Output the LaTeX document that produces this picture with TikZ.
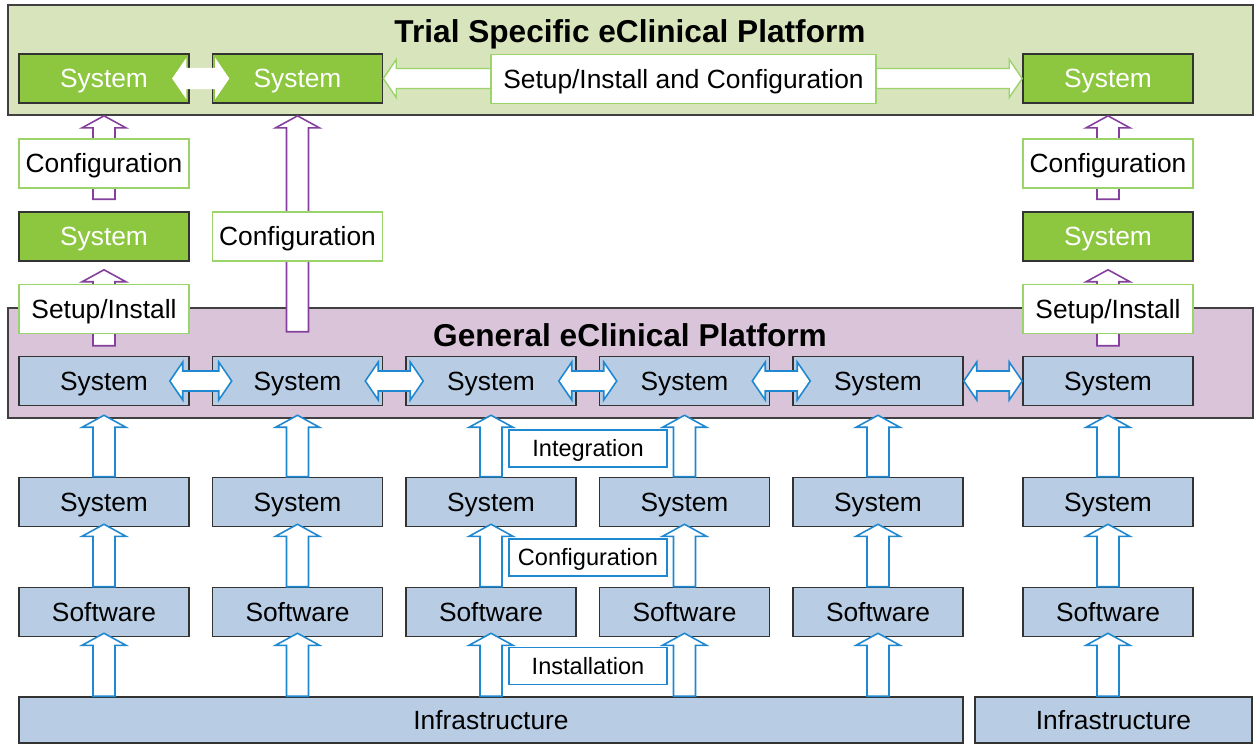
\documentclass[tikz,border=0pt]{standalone}
\usepackage{fontspec}
\setmainfont{Liberation Sans}
\usetikzlibrary{calc,positioning}
\definecolor{trialbg}{HTML}{D7E4BC}
\definecolor{sysgreen}{HTML}{8DC63F}
\definecolor{lblgreen}{HTML}{9BD46A}
\definecolor{genbg}{HTML}{D9C4DA}
\definecolor{sysblue}{HTML}{B8CCE4}
\definecolor{arrblue}{HTML}{2088D0}
\definecolor{arrpurple}{HTML}{84409C}
\tikzstyle{panel}=[draw=black!75, line width=1pt, minimum width=24.9cm, minimum height=2.2cm, inner sep=0pt]
\tikzstyle{title}=[font=\fontsize{18}{22}\selectfont\bfseries, text height=13pt, text depth=0pt, inner sep=0pt]
\tikzstyle{box}=[draw=black!80, line width=0.9pt, minimum width=3.4cm, minimum height=0.98cm, inner sep=0pt, text height=10.8pt, text depth=0pt, font=\fontsize{15}{18}\selectfont]
\tikzstyle{sysg}=[box, fill=sysgreen, text=white]
\tikzstyle{sysb}=[box, fill=sysblue]
\tikzstyle{lblg}=[box, draw=lblgreen, line width=0.7pt, fill=white]
\tikzstyle{lblb}=[draw=arrblue, line width=0.8pt, fill=white, minimum width=3.16cm, minimum height=0.74cm, inner sep=0pt, text height=9.6pt, text depth=0pt, font=\fontsize{13.4}{16}\selectfont]
\tikzstyle{bfat}=[draw=arrblue, line width=0.9pt, fill=white, line join=miter]
\tikzstyle{pfat}=[draw=arrpurple, line width=0.9pt, fill=white, line join=miter]
\tikzstyle{gfat}=[draw=lblgreen, line width=0.8pt, fill=white, line join=miter]
\tikzstyle{wfat}=[draw=white, line width=0.6pt, fill=white, line join=miter]
% hollow block arrow pointing up, from #2 (bottom) to #3 (tip)
\newcommand{\fatup}[3]{%
  \draw[#1] let \p1=(#2), \p2=(#3) in
    (\x1-0.22cm,\y1) -- (\x1-0.22cm,\y2-0.24cm) -- (\x1-0.44cm,\y2-0.24cm) -- (\x1,\y2)
    -- (\x1+0.44cm,\y2-0.24cm) -- (\x1+0.22cm,\y2-0.24cm) -- (\x1+0.22cm,\y1) -- cycle;}
% hollow block arrow with two heads, from #2 (left) to #3 (right)
\newcommand{\fatboth}[3]{%
  \draw[#1] let \p1=(#2), \p2=(#3) in
    (\x1,\y1) -- (\x1+0.26cm,\y1+0.38cm) -- (\x1+0.26cm,\y1+0.2cm) -- (\x2-0.26cm,\y1+0.2cm)
    -- (\x2-0.26cm,\y1+0.38cm) -- (\x2,\y1) -- (\x2-0.26cm,\y1-0.38cm) -- (\x2-0.26cm,\y1-0.2cm)
    -- (\x1+0.26cm,\y1-0.2cm) -- (\x1+0.26cm,\y1-0.38cm) -- cycle;}

\begin{document}
\begin{tikzpicture}[x=0.02cm,y=-0.02cm]
\useasboundingbox (0,0) rectangle (1257,744);
% trial specific platform
\node[panel, fill=trialbg] (tpanel) at (630.5,60) {};
\node[title] (ttitle) at (630,31) {Trial Specific eClinical Platform};
\node[sysg] (t1) at (104,78.5) {System};
\node[sysg] (t2) at (297.5,78.5) {System};
\node[sysg] (t3) at (1108,78.5) {System};
\node[sysg] (m1) at (104,236.5) {System};
\node[sysg] (m6) at (1108,236.5) {System};
% general platform
\node[panel, fill=genbg] (gpanel) at (630.5,363) {};
\node[title] (gtitle) at (630,335) {General eClinical Platform};
\node[sysb] (g1) at (104,381) {System};
\node[sysb] (g2) at (297.5,381) {System};
\node[sysb] (g3) at (491,381) {System};
\node[sysb] (g4) at (684.5,381) {System};
\node[sysb] (g5) at (878,381) {System};
\node[sysb] (g6) at (1108,381) {System};
\node[sysb] (s1) at (104,502) {System};
\node[sysb] (s2) at (297.5,502) {System};
\node[sysb] (s3) at (491,502) {System};
\node[sysb] (s4) at (684.5,502) {System};
\node[sysb] (s5) at (878,502) {System};
\node[sysb] (s6) at (1108,502) {System};
\node[sysb] (w1) at (104,612) {Software};
\node[sysb] (w2) at (297.5,612) {Software};
\node[sysb] (w3) at (491,612) {Software};
\node[sysb] (w4) at (684.5,612) {Software};
\node[sysb] (w5) at (878,612) {Software};
\node[sysb] (w6) at (1108,612) {Software};
\node[sysb, minimum width=18.88cm, minimum height=0.92cm] (infra) at (491,720) {Infrastructure};
\node[sysb, minimum width=5.54cm, minimum height=0.92cm] (infraR) at (1113.5,720) {Infrastructure};
% arrows
\fatboth{wfat}{[xshift=-0.34cm]t1.east}{[xshift=0.34cm]t2.west}
\fatboth{gfat}{t2.east}{t3.west}
\fatboth{bfat}{[xshift=-0.4cm]g1.east}{[xshift=0.4cm]g2.west}
\fatboth{bfat}{[xshift=-0.36cm]g2.east}{[xshift=0.36cm]g3.west}
\fatboth{bfat}{[xshift=-0.36cm]g3.east}{[xshift=0.36cm]g4.west}
\fatboth{bfat}{[xshift=-0.36cm]g4.east}{[xshift=0.36cm]g5.west}
\fatboth{bfat}{g5.east}{g6.west}
\fatup{pfat}{[yshift=0.24cm]m1.north}{tpanel.south}
\fatup{pfat}{[yshift=0.2cm]g1.north}{[yshift=-0.16cm]m1.south}
\fatup{pfat}{[yshift=0.48cm]g2.north}{tpanel.south}
\fatup{pfat}{[yshift=0.24cm]m6.north}{tpanel.south}
\fatup{pfat}{[yshift=0.2cm]g6.north}{[yshift=-0.16cm]m6.south}
\fatup{bfat}{s1.north}{[yshift=-0.18cm]g1.south}
\fatup{bfat}{s2.north}{[yshift=-0.18cm]g2.south}
\fatup{bfat}{s3.north}{[yshift=-0.18cm]g3.south}
\fatup{bfat}{s4.north}{[yshift=-0.18cm]g4.south}
\fatup{bfat}{s5.north}{[yshift=-0.18cm]g5.south}
\fatup{bfat}{s6.north}{[yshift=-0.18cm]g6.south}
\fatup{bfat}{w1.north}{[yshift=0.06cm]s1.south}
\fatup{bfat}{w2.north}{[yshift=0.06cm]s2.south}
\fatup{bfat}{w3.north}{[yshift=0.06cm]s3.south}
\fatup{bfat}{w4.north}{[yshift=0.06cm]s4.south}
\fatup{bfat}{w5.north}{[yshift=0.06cm]s5.south}
\fatup{bfat}{w6.north}{[yshift=0.06cm]s6.south}
\fatup{bfat}{w1 |- infra.north}{[yshift=0.08cm]w1.south}
\fatup{bfat}{w2 |- infra.north}{[yshift=0.08cm]w2.south}
\fatup{bfat}{w3 |- infra.north}{[yshift=0.08cm]w3.south}
\fatup{bfat}{w4 |- infra.north}{[yshift=0.08cm]w4.south}
\fatup{bfat}{w5 |- infra.north}{[yshift=0.08cm]w5.south}
\fatup{bfat}{w6 |- infraR.north}{[yshift=0.08cm]w6.south}
% labels on the arrows
\node[lblg, minimum width=7.7cm] (lsetup) at (683.5,79) {Setup/Install and Configuration};
\node[lblg] (lconf1) at (104,163.5) {Configuration};
\node[lblg] (lsetup1) at (104,309) {Setup/Install};
\node[lblg] (lconf2) at (297.5,236.5) {Configuration};
\node[lblg] (lconf6) at (1108,163.5) {Configuration};
\node[lblg] (lsetup6) at (1108,309) {Setup/Install};
\node[lblb] (lint) at (588,448.5) {Integration};
\node[lblb] (lconf) at (588,557.5) {Configuration};
\node[lblb] (linst) at (588,666) {Installation};
\end{tikzpicture}
\end{document}
